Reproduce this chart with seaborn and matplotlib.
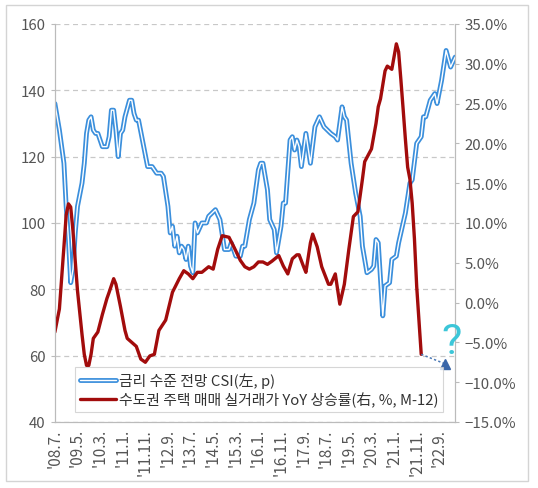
import numpy as np
import pandas as pd
import matplotlib
matplotlib.use("Agg")
import matplotlib.pyplot as plt
import matplotlib.patches as patches
from matplotlib.lines import Line2D
from matplotlib.ticker import FuncFormatter
import seaborn as sns

# months counted from 2008.07
csi_month = [0, 2, 4, 5, 6, 7, 8, 9, 10, 12, 13, 14, 15, 16, 17, 18, 19, 21, 23, 24,
             25, 26, 27, 28, 29, 30, 31, 33, 34, 35, 36, 37, 39, 41, 43, 45, 47, 48, 50, 51,
             52, 53, 54, 55, 56, 57, 58, 59, 60, 61, 62, 63, 65, 67, 68, 71, 73, 75, 77, 78,
             80, 82, 83, 84, 86, 88, 90, 91, 92, 94, 95, 97, 98, 100, 101, 102, 104, 105, 106, 107,
             108, 109, 111, 113, 115, 117, 119, 122, 124, 125, 127, 128, 129, 131, 133, 135, 136, 138, 140, 141,
             142, 143, 145, 146, 148, 149, 151, 152, 155, 157, 158, 160, 162, 163, 164, 166, 168, 169, 171, 173,
             175, 177]
csi_value = [136, 128, 118, 105, 95, 82, 86, 97, 105, 112, 118, 127, 131, 132, 128, 127, 127, 123, 123, 126,
             134, 134, 128, 120, 127, 128, 132, 137, 137, 133, 131, 131, 124, 117, 117, 115, 115, 114, 105, 97,
             99, 93, 96, 91, 93, 92, 89, 93, 87, 85, 100, 97, 100, 100, 102, 104, 101, 92, 92, 94,
             90, 90, 93, 93, 101, 106, 116, 118, 118, 110, 101, 98, 91, 99, 106, 106, 125, 126, 122, 125,
             123, 117, 127, 118, 129, 132, 129, 127, 126, 125, 135, 132, 131, 118, 109, 102, 93, 85, 86, 87,
             95, 94, 72, 81, 82, 89, 90, 94, 103, 112, 113, 124, 126, 132, 132, 137, 139, 136, 143, 152,
             147, 150]

hpi_month = [0, 2, 4, 5, 6, 7, 8, 10, 12, 13, 14, 15, 16, 17, 19, 21, 23, 24, 26, 27,
             29, 31, 32, 34, 36, 38, 40, 42, 44, 46, 49, 52, 55, 57, 59, 61, 63, 65, 68, 70,
             72, 74, 77, 80, 82, 84, 86, 88, 90, 92, 94, 96, 99, 101, 103, 105, 107, 108, 110, 111,
             113, 114, 116, 118, 121, 122, 124, 126, 128, 130, 132, 134, 136, 137, 140, 142, 143, 144, 146, 147,
             149, 151, 152, 153, 154, 155, 156, 157, 158, 159, 160, 162]
hpi_value = [-3.7, -0.8, 7.0, 11.0, 12.4, 12.0, 9.0, 1.5, -4.0, -6.5, -7.9, -7.9, -6.5, -4.5, -3.7, -1.5, 0.5, 1.3, 3.0, 2.3,
             -0.5, -3.5, -4.5, -5.0, -5.5, -7.1, -7.5, -6.7, -6.5, -3.5, -2.2, 1.3, 3.0, 4.0, 3.6, 3.0, 3.8, 3.8, 4.5, 4.2,
             6.7, 8.4, 8.2, 6.5, 5.3, 4.5, 4.2, 4.5, 5.1, 5.1, 4.8, 5.2, 5.9, 4.6, 3.6, 5.5, 6.0, 6.0, 4.5, 3.8,
             7.5, 8.6, 7.0, 4.5, 2.3, 2.3, 3.6, -0.2, 2.3, 6.7, 10.8, 11.4, 15.5, 17.7, 19.3, 22.5, 24.6, 25.6, 29.1, 29.7,
             29.3, 32.5, 31.5, 28.0, 24.3, 20.5, 17.0, 15.5, 12.5, 8.0, 2.0, -6.5]

# dotted "?" forecast arrow end
hpi_guess_month = [162, 172.6]
hpi_guess_value = [-6.5, -7.7]

tick_month = [0, 10, 20, 30, 40, 50, 60, 70, 80, 90, 100, 110, 120, 130, 140, 150, 160, 170]
tick_label = ["'08.7.", "'09.5.", "'10.3.", "'11.1.", "'11.11.", "'12.9.", "'13.7.", "'14.5.", "'15.3.",
              "'16.1.", "'16.11.", "'17.9.", "'18.7.", "'19.5.", "'20.3.", "'21.1.", "'21.11.", "'22.9."]

csi_name = "금리 수준 전망 CSI(左, p)"
hpi_name = "수도권 주택 매매 실거래가 YoY 상승률(右, %, M-12)"

sns.set_style("white")
plt.rcParams["font.family"] = ["Noto Sans CJK KR", "DejaVu Sans"]

blue = "#3b8fdc"
red = "#a20c0c"
grey = "#555555"

csi = pd.DataFrame({"month": csi_month, "value": csi_value})
hpi = pd.DataFrame({"month": hpi_month, "value": hpi_value})

fig = plt.figure(figsize=(5.38, 4.89), dpi=100)
ax = fig.add_axes([0.102, 0.135, 0.744, 0.814])
ax2 = ax.twinx()

sns.lineplot(data=csi, x="month", y="value", ax=ax, color=blue, lw=3.5, legend=False)
sns.lineplot(data=csi, x="month", y="value", ax=ax, color="white", lw=1.0, legend=False)
sns.lineplot(data=hpi, x="month", y="value", ax=ax2, color=red, lw=2.4, legend=False)

ax2.plot(hpi_guess_month, hpi_guess_value, ls=(0, (1.5, 1.5)), color="#4a78b5", lw=1.1)
ax2.plot(hpi_guess_month[1], hpi_guess_value[1], marker="^", color="#3a66a8", ms=7)
ax2.text(175.2, -4.9, "?", color="#3cc6d8", fontsize=31, fontweight="normal", ha="center",
         va="center", family=["Roboto", "DejaVu Sans"], clip_on=False)

ax.set_xlim(0, 177)
ax.set_ylim(40, 160)
ax2.set_ylim(-15, 35)
ax.set_yticks(range(40, 161, 20))
ax2.set_yticks(range(-15, 36, 5))
ax2.yaxis.set_major_formatter(FuncFormatter(lambda v, p: f"{v:.1f}%".replace("-", "−")))
ax.set_xticks(tick_month)
ax.set_xticklabels(tick_label, rotation=90)
ax.set_xlabel("")
ax.set_ylabel("")
ax2.set_ylabel("")

ax.grid(axis="y", ls=(0, (4, 3)), color="#c8c8c8", lw=0.9)
ax.set_axisbelow(True)

for a in (ax, ax2):
    a.spines["top"].set_visible(False)
    for s in ("left", "right", "bottom"):
        a.spines[s].set_color("#bbbbbb")
        a.spines[s].set_linewidth(0.8)
    a.tick_params(colors=grey, labelsize=10.8, length=3, width=0.8)
    for t in a.get_xticklabels() + a.get_yticklabels():
        t.set_color(grey)
ax.tick_params(axis="x", direction="inout", length=5, color="#bbbbbb", pad=2, labelsize=11)
ax.tick_params(axis="y", color="#bbbbbb")
ax2.tick_params(axis="y", color="#bbbbbb")

h_csi = (Line2D([], [], color=blue, lw=3.5), Line2D([], [], color="white", lw=1.0))
h_hpi = Line2D([], [], color=red, lw=2.4)
leg = ax2.legend([h_csi, h_hpi], [csi_name, hpi_name], loc="lower left",
                 bbox_to_anchor=(0.05, 0.025), borderaxespad=0, fontsize=10.7, frameon=True,
                 fancybox=False, handlelength=2.4, handletextpad=0.2, borderpad=0.35,
                 labelspacing=0.2)
leg.get_frame().set_edgecolor("#cccccc")
leg.get_frame().set_linewidth(0.8)
for t in leg.get_texts():
    t.set_color("#333333")

fig.patches.append(patches.Rectangle((0.011, 0.014), 0.970, 0.974, transform=fig.transFigure,
                                     fill=False, edgecolor="#d4d4d4", lw=1))

fig.savefig("out.png", dpi=100)
